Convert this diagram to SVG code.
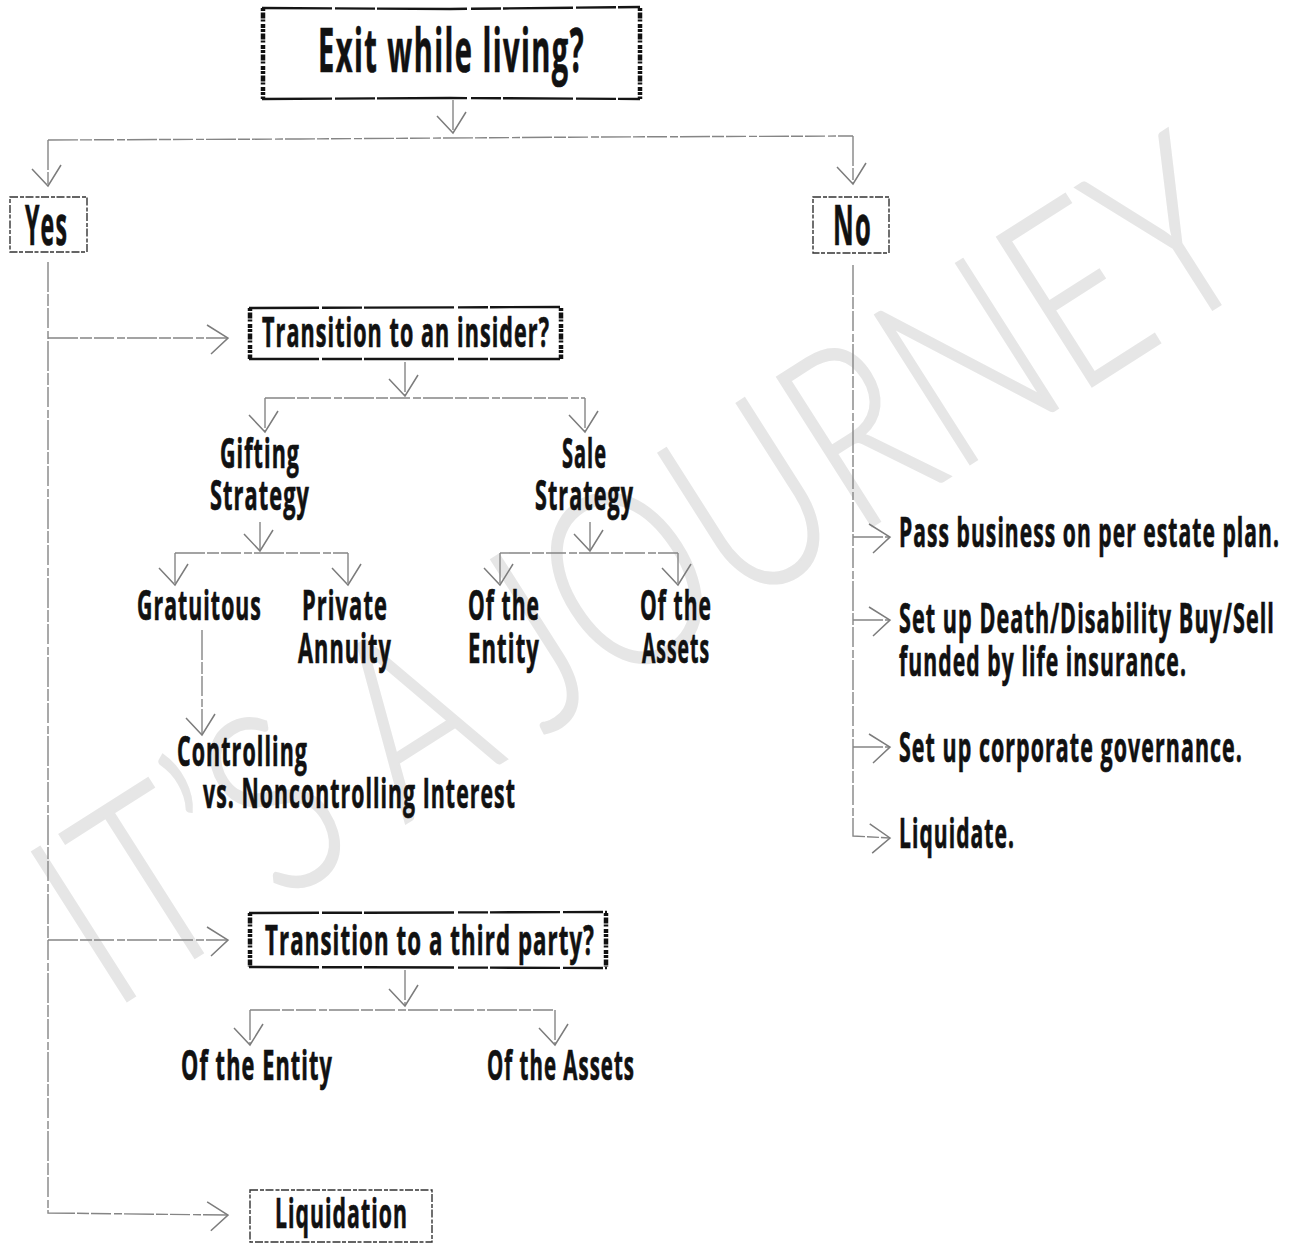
<svg xmlns="http://www.w3.org/2000/svg" width="1292" height="1244" viewBox="0 0 1292 1244">
<style>
.t{font-family:'Open Sans','Liberation Sans',sans-serif;font-weight:700;fill:#111;stroke:#111;stroke-width:0.5;letter-spacing:0.05em}
.big{font-size:41.5px}
.yn{font-size:38.6px}
.m{font-size:28px}
.c{fill:none;stroke:#858585;stroke-width:1.4;stroke-dasharray:30 2 12 2 20 3 8 2}
.hb{fill:none;stroke:#151515;stroke-width:2.4;stroke-dasharray:70 3 40 2 90 4 30 2}
.he{fill:none;stroke:#111;stroke-width:4.5;stroke-dasharray:3 1.5 6 1 2 2.5 4 1}
.db{fill:none;stroke:#333;stroke-width:1.4;stroke-dasharray:8 2 4 1.5}
.wm{font-family:Lato,'Open Sans',sans-serif;font-weight:300;fill:#e6e6e6;stroke:#e6e6e6;stroke-width:2}
</style>
<defs>
<marker id="ah" markerUnits="userSpaceOnUse" markerWidth="40" markerHeight="40" viewBox="-25 -20 30 40" refX="0" refY="0" orient="auto" overflow="visible">
<path d="M-21,-13 L0,0 L-17,16" fill="none" stroke="#7c7c7c" stroke-width="1.5"/>
</marker>
</defs>
<rect width="1292" height="1244" fill="#fff"/>
<g id="watermark">
<text class="wm" transform="translate(110,1012) rotate(-32.5) scale(0.74,1)" x="0" y="0" font-size="250" textLength="1850" lengthAdjust="spacingAndGlyphs">IT’S A JOURNEY</text>
</g>
<g id="connectors">
<path class="c" d="M453,100 L453,133" marker-end="url(#ah)"/>
<path class="c" d="M48,140 L300,139 L600,137 L853,136"/>
<path class="c" d="M48,140 L48,186" marker-end="url(#ah)"/>
<path class="c" d="M853,136 L853,184" marker-end="url(#ah)"/>
<path class="c" d="M48,262 L48,1213 L228,1215" marker-end="url(#ah)"/>
<path class="c" d="M48,338 L228,338" marker-end="url(#ah)"/>
<path class="c" d="M48,940 L228,940" marker-end="url(#ah)"/>
<path class="c" d="M853,265 L853,836 L890,838" marker-end="url(#ah)"/>
<path class="c" d="M853,537 L890,537" marker-end="url(#ah)"/>
<path class="c" d="M853,620 L890,620" marker-end="url(#ah)"/>
<path class="c" d="M853,747 L890,747" marker-end="url(#ah)"/>
<path class="c" d="M405,362 L405,396" marker-end="url(#ah)"/>
<path class="c" d="M265,398 L585,398"/>
<path class="c" d="M265,398 L265,432" marker-end="url(#ah)"/>
<path class="c" d="M585,398 L585,432" marker-end="url(#ah)"/>
<path class="c" d="M260,522 L260,551" marker-end="url(#ah)"/>
<path class="c" d="M175,553 L348,553"/>
<path class="c" d="M175,553 L175,585" marker-end="url(#ah)"/>
<path class="c" d="M348,553 L348,585" marker-end="url(#ah)"/>
<path class="c" d="M590,522 L590,551" marker-end="url(#ah)"/>
<path class="c" d="M500,553 L678,553"/>
<path class="c" d="M500,553 L500,585" marker-end="url(#ah)"/>
<path class="c" d="M678,553 L678,585" marker-end="url(#ah)"/>
<path class="c" d="M202,630 L202,735" marker-end="url(#ah)"/>
<path class="c" d="M405,970 L405,1006" marker-end="url(#ah)"/>
<path class="c" d="M250,1010 L555,1010"/>
<path class="c" d="M250,1010 L250,1045" marker-end="url(#ah)"/>
<path class="c" d="M555,1010 L555,1045" marker-end="url(#ah)"/>
</g>
<g id="n-exit">
<path class="hb" d="M262,8 L450,9 L640,7 M262,99 L450,98 L640,99"/>
<path class="he" d="M263,8 L263,99 M640,8 L640,99"/>
<text class="t big" transform="translate(318,72) scale(0.65,1.45)" textLength="410.8" lengthAdjust="spacingAndGlyphs">Exit while living?</text>
</g>
<g id="n-yes">
<rect class="db" x="10" y="197" width="77" height="55"/>
<text class="t yn" transform="translate(25,245) scale(0.65,1.45)" textLength="66.2" lengthAdjust="spacingAndGlyphs">Yes</text>
</g>
<g id="n-no">
<rect class="db" x="813" y="197" width="76" height="56"/>
<text class="t yn" transform="translate(833,245) scale(0.65,1.45)" textLength="60" lengthAdjust="spacingAndGlyphs">No</text>
</g>
<g id="n-insider">
<path class="hb" d="M249,308 L562,307 M249,359 L562,359"/>
<path class="he" d="M250,308 L250,359 M561,308 L561,359"/>
<text class="t m" transform="translate(262,347) scale(0.65,1.45)" textLength="443.1" lengthAdjust="spacingAndGlyphs">Transition to an insider?</text>
</g>
<g id="n-gifting">
<text class="t m" transform="translate(220,468) scale(0.65,1.45)" textLength="123.1" lengthAdjust="spacingAndGlyphs">Gifting</text>
<text class="t m" transform="translate(210,510) scale(0.65,1.45)" textLength="153.8" lengthAdjust="spacingAndGlyphs">Strategy</text>
</g>
<g id="n-sale">
<text class="t m" transform="translate(562,468) scale(0.65,1.45)" textLength="69.2" lengthAdjust="spacingAndGlyphs">Sale</text>
<text class="t m" transform="translate(535,510) scale(0.65,1.45)" textLength="152.3" lengthAdjust="spacingAndGlyphs">Strategy</text>
</g>
<g id="n-gratuitous">
<text class="t m" transform="translate(137,620) scale(0.65,1.45)" textLength="192.3" lengthAdjust="spacingAndGlyphs">Gratuitous</text>
</g>
<g id="n-annuity">
<text class="t m" transform="translate(302,620) scale(0.65,1.45)" textLength="132.3" lengthAdjust="spacingAndGlyphs">Private</text>
<text class="t m" transform="translate(298,663) scale(0.65,1.45)" textLength="144.6" lengthAdjust="spacingAndGlyphs">Annuity</text>
</g>
<g id="n-sale-entity">
<text class="t m" transform="translate(468,620) scale(0.65,1.45)" textLength="110.8" lengthAdjust="spacingAndGlyphs">Of the</text>
<text class="t m" transform="translate(468,663) scale(0.65,1.45)" textLength="110.8" lengthAdjust="spacingAndGlyphs">Entity</text>
</g>
<g id="n-sale-assets">
<text class="t m" transform="translate(640,620) scale(0.65,1.45)" textLength="110.8" lengthAdjust="spacingAndGlyphs">Of the</text>
<text class="t m" transform="translate(642,663) scale(0.65,1.45)" textLength="104.6" lengthAdjust="spacingAndGlyphs">Assets</text>
</g>
<g id="n-controlling">
<text class="t m" transform="translate(177,766) scale(0.65,1.45)" textLength="201.5" lengthAdjust="spacingAndGlyphs">Controlling</text>
<text class="t m" transform="translate(203,808) scale(0.65,1.45)" textLength="481.5" lengthAdjust="spacingAndGlyphs">vs. Noncontrolling Interest</text>
</g>
<g id="n-third">
<path class="hb" d="M249,913 L607,912 M249,967 L607,968"/>
<path class="he" d="M250,913 L250,967 M606,913 L606,967"/>
<text class="t m" transform="translate(265,955) scale(0.65,1.45)" textLength="507.7" lengthAdjust="spacingAndGlyphs">Transition to a third party?</text>
</g>
<g id="n-third-entity">
<text class="t m" transform="translate(181,1080) scale(0.65,1.45)" textLength="233.8" lengthAdjust="spacingAndGlyphs">Of the Entity</text>
</g>
<g id="n-third-assets">
<text class="t m" transform="translate(487,1080) scale(0.65,1.45)" textLength="227.7" lengthAdjust="spacingAndGlyphs">Of the Assets</text>
</g>
<g id="n-liquidation">
<rect class="db" x="250" y="1190" width="182" height="52"/>
<text class="t m" transform="translate(275,1228) scale(0.65,1.45)" textLength="204.6" lengthAdjust="spacingAndGlyphs">Liquidation</text>
</g>
<g id="n-pass">
<text class="t m" transform="translate(899,547) scale(0.65,1.45)" textLength="586.2" lengthAdjust="spacingAndGlyphs">Pass business on per estate plan.</text>
</g>
<g id="n-buysell">
<text class="t m" transform="translate(899,633) scale(0.65,1.45)" textLength="578.5" lengthAdjust="spacingAndGlyphs">Set up Death/Disability Buy/Sell</text>
<text class="t m" transform="translate(899,676) scale(0.65,1.45)" textLength="443.1" lengthAdjust="spacingAndGlyphs">funded by life insurance.</text>
</g>
<g id="n-governance">
<text class="t m" transform="translate(899,762) scale(0.65,1.45)" textLength="529.2" lengthAdjust="spacingAndGlyphs">Set up corporate governance.</text>
</g>
<g id="n-liquidate">
<text class="t m" transform="translate(899,848) scale(0.65,1.45)" textLength="178.5" lengthAdjust="spacingAndGlyphs">Liquidate.</text>
</g>
</svg>
